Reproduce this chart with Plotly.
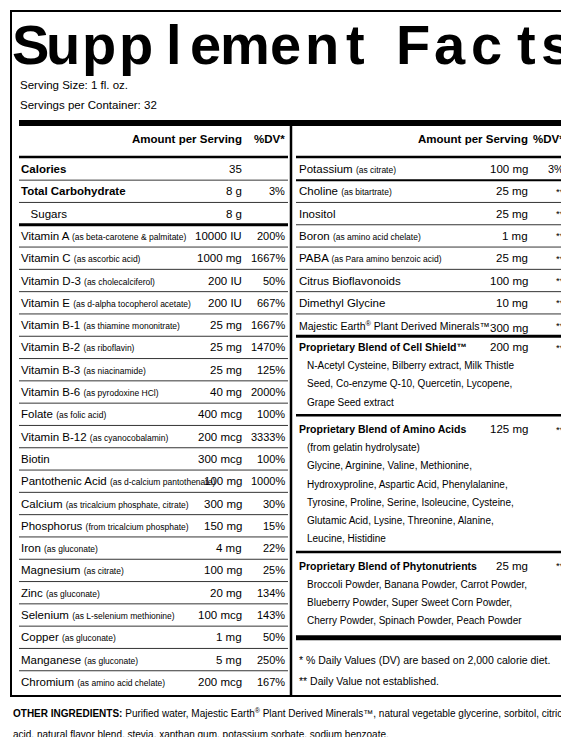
import plotly.graph_objects as go

W, H = 569, 737
FONT = "Liberation Sans, Arial, sans-serif"

title_letters = list("Supplement") + [""] + list("Facts")
serving_lines = ["Serving Size: 1 fl. oz.", "Servings per Container: 32"]

left_names = ["Calories", "Total Carbohydrate", "Sugars", "Vitamin A", "Vitamin C", "Vitamin D-3",
              "Vitamin E", "Vitamin B-1", "Vitamin B-2", "Vitamin B-3", "Vitamin B-6", "Folate",
              "Vitamin B-12", "Biotin", "Pantothenic Acid", "Calcium", "Phosphorus", "Iron",
              "Magnesium", "Zinc", "Selenium", "Copper", "Manganese", "Chromium"]
left_notes = ["", "", "", "(as beta-carotene & palmitate)", "(as ascorbic acid)", "(as cholecalciferol)",
              "(as d-alpha tocopherol acetate)", "(as thiamine mononitrate)", "(as riboflavin)",
              "(as niacinamide)", "(as pyrodoxine HCl)", "(as folic acid)", "(as cyanocobalamin)", "",
              "(as d-calcium pantothenate)", "(as tricalcium phosphate, citrate)",
              "(from tricalcium phosphate)", "(as gluconate)", "(as citrate)", "(as gluconate)",
              "(as L-selenium methionine)", "(as gluconate)", "(as gluconate)", "(as amino acid chelate)"]
left_amounts = ["35", "8 g", "8 g", "10000 IU", "1000 mg", "200 IU", "200 IU", "25 mg", "25 mg",
                "25 mg", "40 mg", "400 mcg", "200 mcg", "300 mcg", "100 mg", "300 mg", "150 mg",
                "4 mg", "100 mg", "20 mg", "100 mcg", "1 mg", "5 mg", "200 mcg"]
left_dv = ["", "3%", "", "200%", "1667%", "50%", "667%", "1667%", "1470%", "125%", "2000%", "100%",
           "3333%", "100%", "1000%", "30%", "15%", "22%", "25%", "134%", "143%", "50%", "250%", "167%"]
left_bold = ["Calories", "Total Carbohydrate"]

right_names = ["Potassium", "Choline", "Inositol", "Boron", "PABA", "Citrus Bioflavonoids",
               "Dimethyl Glycine", "Majestic Earth<sup>®</sup> Plant Derived Minerals™"]
right_notes = ["(as citrate)", "(as bitartrate)", "", "(as amino acid chelate)",
               "(as Para amino benzoic acid)", "", "", ""]
right_amounts = ["100 mg", "25 mg", "25 mg", "1 mg", "25 mg", "100 mg", "10 mg", "300 mg"]
right_dv = ["3%", "**", "**", "**", "**", "**", "**", "**"]

blend_names = ["Proprietary Blend of Cell Shield™", "Proprietary Blend of Amino Acids",
               "Proprietary Blend of Phytonutrients"]
blend_amounts = ["200 mg", "125 mg", "25 mg"]
blend_dv = ["**", "**", "**"]
blend_items = [
    ["N-Acetyl Cysteine, Bilberry extract, Milk Thistle", "Seed, Co-enzyme Q-10, Quercetin, Lycopene,",
     "Grape Seed extract"],
    ["(from gelatin hydrolysate)", "Glycine, Arginine, Valine, Methionine,",
     "Hydroxyproline, Aspartic Acid, Phenylalanine,", "Tyrosine, Proline, Serine, Isoleucine, Cysteine,",
     "Glutamic Acid, Lysine, Threonine, Alanine,", "Leucine, Histidine"],
    ["Broccoli Powder, Banana Powder, Carrot Powder,", "Blueberry Powder, Super Sweet Corn Powder,",
     "Cherry Powder, Spinach Powder, Peach Powder"],
]
footnotes = ["* % Daily Values (DV) are based on 2,000 calorie diet.", "** Daily Value not established."]
other_ingredients = ["<b>OTHER INGREDIENTS:</b> Purified water, Majestic Earth<sup>®</sup> Plant Derived Minerals™, "
                     "natural vegetable glycerine, sorbitol, citric",
                     "acid, natural flavor blend, stevia, xanthan gum, potassium sorbate, sodium benzoate."]

ann = []
shapes = []


def text(x, y, s, size=12, anchor="left", bold=False):
    if not s:
        return
    if bold:
        s = "<b>" + s + "</b>"
    ann.append(dict(x=x, y=y, text=s, showarrow=False, xanchor=anchor, yanchor="middle",
                    font=dict(family=FONT, size=size, color="black")))


def hline(x0, x1, y, w=1):
    shapes.append(dict(type="line", x0=x0, x1=x1, y0=y, y1=y, line=dict(color="black", width=w)))


def note(s):
    return " <span style='font-size:8.5px'>" + s + "</span>" if s else ""


# frame
shapes.append(dict(type="rect", x0=3, x1=566, y0=3, y1=688, line=dict(color="black", width=2)))
shapes.append(dict(type="line", x0=283, x1=283, y0=116, y1=688, line=dict(color="black", width=2.5)))
hline(11, 558, 115, 6)

# title, letters spread across the width
xs = [22, 55, 91, 128, 166, 197, 237, 277, 314, 347, 0, 405, 442, 478, 518, 548]
for x, ch in zip(xs, title_letters):
    if ch:
        ann.append(dict(x=x, y=36, text="<b>" + ch + "</b>", showarrow=False, xanchor="center",
                        yanchor="middle", font=dict(family=FONT, size=56, color="black")))
for i, s in enumerate(serving_lines):
    text(10, 77 + i * 20, s, 11.5)

# headers
for xa, xd in [(236, 279), (522, 558)]:
    text(xa, 131, "Amount per Serving", 11.5, "right", True)
    text(xd, 131, "%DV*", 11.5, "right", True)
hline(11, 280, 149, 2.5)
hline(288, 558, 149, 2.5)

# left table
step = 22.3
for i, name in enumerate(left_names):
    y = 161 + i * step
    label = name
    if name in left_bold:
        label = "<b>" + name + "</b>"
    if name == "Sugars":
        label = "&nbsp;&nbsp;&nbsp;" + name
    label += note(left_notes[i])
    text(11, y, label, 11.5)
    text(236, y, left_amounts[i], 11.5, "right")
    text(279, y, left_dv[i], 11, "right")
    if i < len(left_names) - 1:
        hline(11, 280, y + step / 2, 3 if name == "Sugars" else 0.8)

# right table
for i, name in enumerate(right_names):
    y = 161 + i * step
    label = name + note(right_notes[i])
    text(289, y, label, 10.5 if i == len(right_names) - 1 else 11.5)
    text(522, y + (3 if i == len(right_names) - 1 else 0), right_amounts[i], 11.5, "right")
    text(558, y, right_dv[i], 9.5 if right_dv[i] == "**" else 11, "right")
    w = 3 if i == len(right_names) - 1 else (2 if i == 0 else 0.8)
    hline(288, 558, y + step / 2, w)

# blends
y = 161 + len(right_names) * step - step / 2 + 11
for j, name in enumerate(blend_names):
    text(289, y, name, 10.5, bold=True)
    text(522, y, blend_amounts[j], 11.5, "right")
    text(558, y, blend_dv[j], 9.5, "right")
    yy = y
    for item in blend_items[j]:
        yy += 18.3
        text(297, yy, item, 10)
    y = yy + 13
    last = j == len(blend_names) - 1
    hline(288, 558, y + (4 if last else 0), 5 if last else 2.5)
    y += 14 if not last else 16

for k, s in enumerate(footnotes):
    text(289, y + 10 + k * 21, s, 10.5)

for k, s in enumerate(other_ingredients):
    text(3, 705 + k * 21, s, 10)

fig = go.Figure()
fig.update_layout(width=W, height=H, margin=dict(l=0, r=0, t=0, b=0),
                  paper_bgcolor="white", plot_bgcolor="white",
                  xaxis=dict(range=[0, W], visible=False, fixedrange=True),
                  yaxis=dict(range=[H, 0], visible=False, fixedrange=True),
                  annotations=ann, shapes=shapes, showlegend=False)
fig.write_html("out.html")
